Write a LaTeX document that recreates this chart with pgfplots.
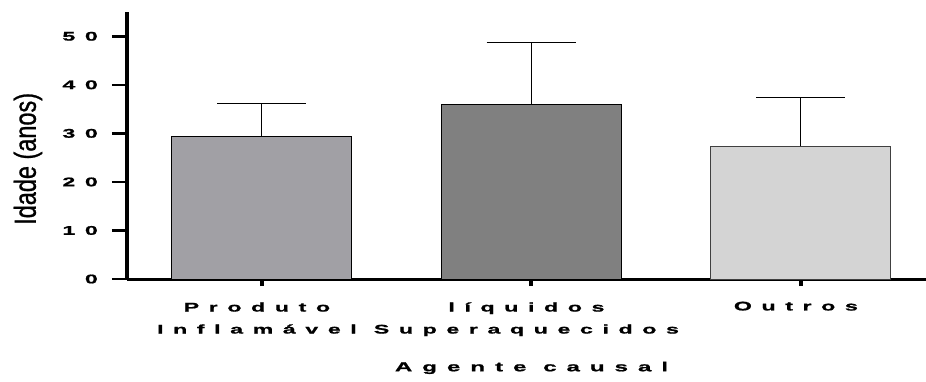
\documentclass[border=0pt]{standalone}
\usepackage{pgfplots}
\pgfplotsset{compat=1.18}
\usepackage{fontspec}
\setmainfont{Liberation Sans}
% wide, letter-spaced bold face for ticks and the x label
\newfontfamily\wfont{Liberation Sans}[UprightFont=* Bold, FakeStretch=1.85, LetterSpace=77, FakeBold=1.2]
% condensed face for the y label
\newfontfamily\nfont{Liberation Sans}[FakeStretch=0.77, FakeBold=0.8]

\newcommand\wfsize{\fontsize{12.5}{14}\selectfont}
\newcommand\wide[1]{\mbox{\wfsize\wfont #1}}
\newcommand\widet[1]{\mbox{\wfsize\wfont #1\kern 0.77em}}
\newcommand\twolines[2]{\mbox{\wfsize\wfont
  \begin{tabular}{@{}c@{}}#1\kern 0.77em\\[8pt]#2\kern 0.77em\end{tabular}}}

\definecolor{barA}{RGB}{161,160,165}
\definecolor{barB}{RGB}{128,128,128}
\definecolor{barC}{RGB}{212,212,212}

\begin{document}
\begin{tikzpicture}
\useasboundingbox (-127pt,-102pt) rectangle (799pt,279pt);
\begin{axis}[
  scale only axis,
  width=799pt, height=267pt,
  xmin=-0.5, xmax=2.465,
  ymin=0, ymax=55,
  axis x line=bottom, axis y line=left,
  x axis line style={-, line width=3pt},
  y axis line style={-, line width=3.5pt},
  tick align=outside,
  major tick length=15pt,
  ytick={0,10,20,30,40,50},
  yticklabels={\wide{0},\wide{10},\wide{20},\wide{30},\wide{40},\wide{50}},
  ytick style={line width=2.5pt, black},
  xtick={0,1,2},
  xticklabels={\twolines{Produto}{Inflamável},\twolines{líquidos}{Superaquecidos},\widet{Outros}},
  xtick style={line width=4pt, black, /pgfplots/major tick length=7pt},
  xticklabel style={font=\wfsize\wfont, anchor=north, inner sep=0pt, yshift=-7.5pt},
  yticklabel style={font=\wfsize\wfont, anchor=east, inner sep=0pt, xshift=-14pt},
  xlabel={\mbox{\fontsize{13}{15}\selectfont\wfont Agente causal}},
  xlabel style={at={(axis description cs:0.5063,-0.333)}, anchor=center},
  ylabel={\mbox{\fontsize{30.5}{34}\selectfont\nfont Idade (anos)}},
  ylabel style={at={(axis description cs:-0.124,0.45)}, anchor=center},
  error bars/error bar style={line width=1pt, black},
  error bars/error mark options={rotate=90, line width=1pt, black, mark size=44.5pt},
]
\addplot[ybar, bar width=0.668, fill=barA, draw=black, line width=1pt,
  error bars/.cd, y dir=plus, y explicit]
  coordinates {(0,29.35) +- (0,6.7)};
\addplot[ybar, bar width=0.668, fill=barB, draw=black, line width=1pt,
  error bars/.cd, y dir=plus, y explicit]
  coordinates {(1,35.9) +- (0,12.9)};
\addplot[ybar, bar width=0.668, fill=barC, draw=black!75, line width=1pt,
  error bars/.cd, y dir=plus, y explicit]
  coordinates {(2,27.3) +- (0,10.0)};
\end{axis}
\end{tikzpicture}
\end{document}
